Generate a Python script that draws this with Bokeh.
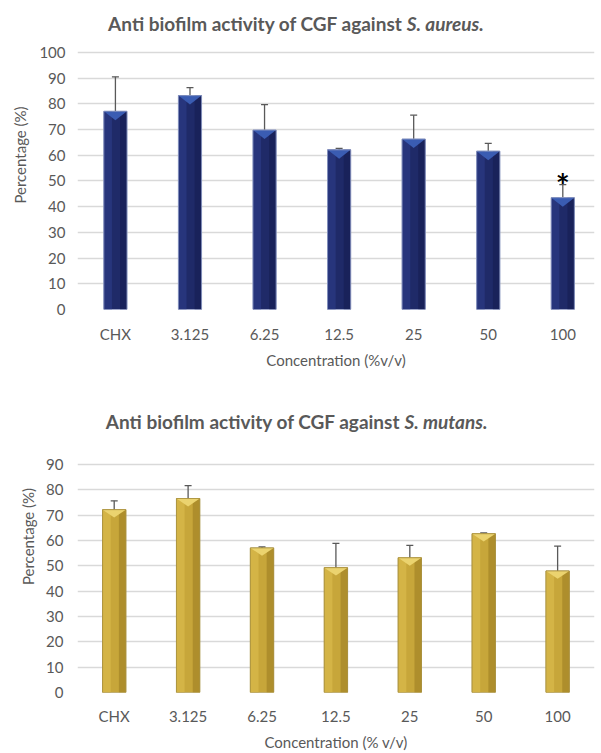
from bokeh.plotting import figure
from bokeh.models import Range1d, FixedTicker, ColumnDataSource, Whisker, TeeHead
from bokeh.layouts import column
from bokeh.embed import file_html
from bokeh.resources import INLINE
from bokeh.core.properties import value

# ---------------- data ----------------
categories = ["CHX", "3.125", "6.25", "12.5", "25", "50", "100"]

aureus_mean = [77.1, 83.2, 69.8, 62.1, 66.3, 61.6, 43.5]
aureus_err = [13.4, 3.1, 9.9, 0.6, 9.3, 3.0, 5.1]
aureus_marks = ["", "", "", "", "", "", "*"]

mutans_mean = [72.2, 76.6, 57.1, 49.3, 53.2, 62.7, 48.0]
mutans_err = [3.5, 5.1, 0.4, 9.6, 4.9, 0.3, 9.8]
mutans_marks = ["", "", "", "", "", "", ""]

aureus_yticks = [0, 10, 20, 30, 40, 50, 60, 70, 80, 90, 100]
mutans_yticks = [0, 10, 20, 30, 40, 50, 60, 70, 80, 90]

FONT = "Lato"
GREY = "#595959"
GRID = "#d9d9d9"

NAVY = dict(main="#1f2a68", light="#27357c", dark="#19225a", top="#3a5cb2", edge="#8e9bc4")
GOLD = dict(main="#c7a63a", light="#d4b446", dark="#ae8e2c", top="#ebd36f", edge="#a8913f")


def make_chart(means, errs, marks, yticks, colors, title_main, title_species, xlabel,
               width, height, borders, x_start, x_end, y_end, bar_w, bevel_px,
               title_y, split_x, x_tick_standoff, xlabel_standoff,
               y_tick_standoff, ylabel_standoff):
    left, right, top, bottom = borders
    p = figure(width=width, height=height, output_backend="svg", toolbar_location=None,
               title=None,
               x_range=Range1d(x_start, x_end), y_range=Range1d(0, y_end),
               min_border_left=left, min_border_right=right,
               min_border_top=top, min_border_bottom=bottom,
               outline_line_color=None, background_fill_color="white",
               border_fill_color="white")
    xs = list(range(len(categories)))
    frame_h = height - top - bottom
    bevel = bevel_px * y_end / frame_h

    src = ColumnDataSource(dict(
        x=xs, top=means,
        upper=[m + e for m, e in zip(means, errs)],
        lower=[m - e for m, e in zip(means, errs)],
        mark=marks,
        xl=[x - bar_w * 0.325 for x in xs],
        xr=[x + bar_w * 0.35 for x in xs],
    ))
    # main bar
    p.vbar(x="x", top="top", bottom=0, width=bar_w, source=src,
           fill_color=colors["main"], line_color=colors["edge"], line_width=0.8)
    # shading strips
    p.vbar(x="xl", top="top", bottom=0, width=bar_w * 0.35, source=src,
           fill_color=colors["light"], line_color=None)
    p.vbar(x="xr", top="top", bottom=0, width=bar_w * 0.3, source=src,
           fill_color=colors["dark"], line_color=None)
    # bevel triangle at top of each bar
    tri_x = [[x - bar_w / 2, x + bar_w / 2, x] for x in xs]
    tri_y = [[m, m, m - bevel] for m in means]
    p.patches(tri_x, tri_y, fill_color=colors["top"], line_color=None)
    # outline again
    p.vbar(x="x", top="top", bottom=0, width=bar_w, source=src,
           fill_color=None, line_color=colors["edge"], line_width=0.8)

    # error bars
    w = Whisker(source=src, base="x", upper="upper", lower="lower",
                line_color=GREY, line_width=1.3,
                upper_head=TeeHead(size=7, line_color=GREY, line_width=1.3),
                lower_head=TeeHead(size=7, line_color=GREY, line_width=1.3))
    p.add_layout(w)

    # significance marks
    p.text(x="x", y="upper", text="mark", source=src, text_align="center",
           text_baseline="alphabetic", y_offset=0,
           text_font=value(FONT), text_font_size="33px", text_font_style="bold",
           text_color="black")

    # title (two styles)
    p.text(x=[split_x - 0.05], y=[title_y], text=[title_main], text_align="right",
           text_baseline="middle", text_font=value(FONT), text_font_size="19px",
           text_font_style="bold", text_color=GREY)
    p.text(x=[split_x], y=[title_y], text=[title_species], text_align="left",
           text_baseline="middle", text_font=value(FONT), text_font_size="19px",
           text_font_style="bold italic", text_color=GREY)

    # axes
    p.xaxis.ticker = FixedTicker(ticks=xs)
    p.xaxis.major_label_overrides = {i: c for i, c in enumerate(categories)}
    p.yaxis.ticker = FixedTicker(ticks=yticks)
    for ax in (p.xaxis[0], p.yaxis[0]):
        ax.axis_line_color = None
        ax.major_tick_line_color = None
        ax.minor_tick_line_color = None
        ax.major_tick_out = 0
        ax.major_tick_in = 0
        ax.major_label_text_font = FONT
        ax.major_label_text_font_size = "15px"
        ax.major_label_text_color = GREY
        ax.axis_label_text_font = FONT
        ax.axis_label_text_font_size = "15px"
        ax.axis_label_text_font_style = "normal"
        ax.axis_label_text_color = GREY
    p.xaxis.axis_label = xlabel
    p.xaxis.major_label_standoff = x_tick_standoff
    p.xaxis.axis_label_standoff = xlabel_standoff
    p.yaxis.axis_label = "Percentage (%)"
    p.yaxis.major_label_standoff = y_tick_standoff
    p.yaxis.axis_label_standoff = ylabel_standoff
    p.xgrid.grid_line_color = None
    p.ygrid.grid_line_color = GRID
    p.ygrid.grid_line_width = 1.5
    return p


p1 = make_chart(aureus_mean, aureus_err, aureus_marks, aureus_yticks, NAVY,
                "Anti biofilm activity of CGF against", "S. aureus.",
                "Concentration (%v/v)",
                width=601, height=380, borders=(72, 0, 0, 71),
                x_start=-0.5085, x_end=6.425, y_end=120.2, bar_w=0.31, bevel_px=9,
                title_y=111.3, split_x=3.908, x_tick_standoff=15, xlabel_standoff=5,
                y_tick_standoff=12, ylabel_standoff=7)

p2 = make_chart(mutans_mean, mutans_err, mutans_marks, mutans_yticks, GOLD,
                "Anti biofilm activity of CGF against", "S. mutans.",
                "Concentration (% v/v)",
                width=601, height=373, borders=(77, 7, 0, 57),
                x_start=-0.4966, x_end=6.499, y_end=123.2, bar_w=0.315, bevel_px=8,
                title_y=107.2, split_x=3.928, x_tick_standoff=14, xlabel_standoff=5,
                y_tick_standoff=14, ylabel_standoff=6)

layout = column(p1, p2, spacing=0)
open("out.html", "w").write(file_html(layout, INLINE))
